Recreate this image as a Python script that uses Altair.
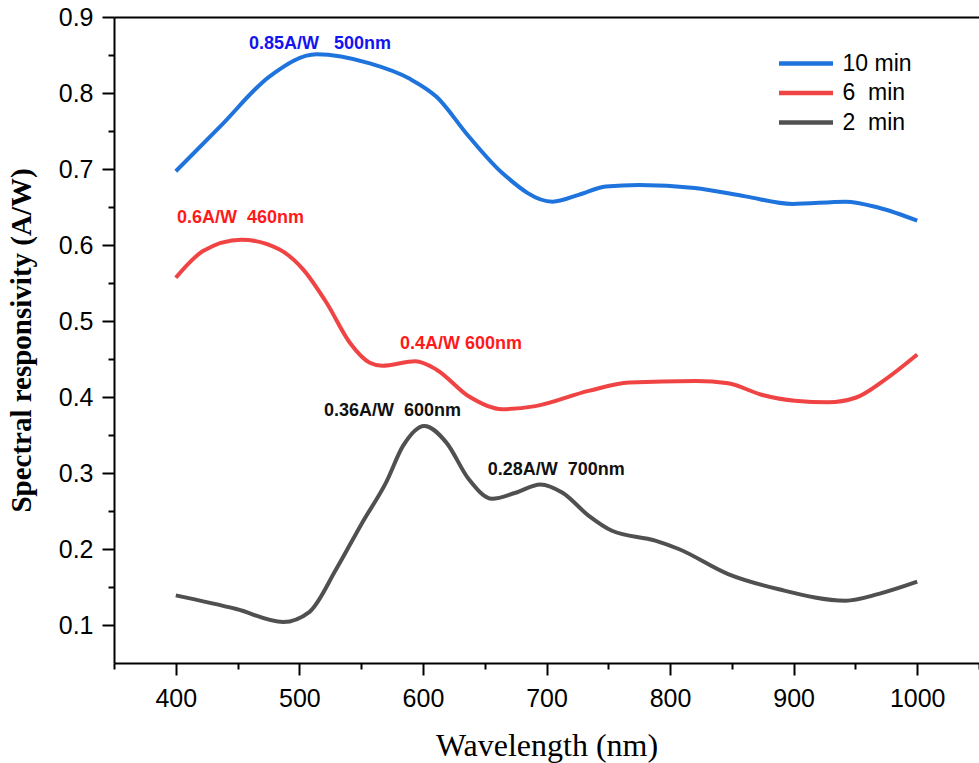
import altair as alt
import pandas as pd

# Spectral responsivity curves for three deposition times
wl_10 = [400, 436, 476, 514, 557, 589, 611, 637, 664, 705, 726, 748, 775, 820, 861, 899, 942, 969, 1000]
sr_10 = [0.697, 0.756, 0.822, 0.851, 0.839, 0.819, 0.795, 0.743, 0.695, 0.657, 0.666, 0.677, 0.679,
         0.675, 0.664, 0.654, 0.657, 0.649, 0.632]

wl_6 = [400, 422, 453, 484, 503, 522, 541, 557, 567, 594, 611, 637, 664, 691, 734, 767, 821, 847,
        874, 901, 928, 950, 974, 1000]
sr_6 = [0.557, 0.592, 0.607, 0.594, 0.568, 0.524, 0.471, 0.445, 0.441, 0.447, 0.436, 0.401, 0.384,
        0.388, 0.408, 0.419, 0.421, 0.418, 0.403, 0.395, 0.393, 0.399, 0.423, 0.456]

wl_2 = [400, 449, 487, 508, 530, 551, 570, 584, 601, 619, 637, 656, 675, 695, 713, 734, 753, 788,
        807, 847, 888, 942, 969, 1000]
sr_2 = [0.139, 0.121, 0.104, 0.117, 0.174, 0.235, 0.287, 0.336, 0.362, 0.340, 0.292, 0.266, 0.274,
        0.285, 0.274, 0.244, 0.224, 0.211, 0.200, 0.167, 0.147, 0.132, 0.141, 0.157]

series_names = ["10\u00a0min", "6\u00a0\u00a0min", "2\u00a0\u00a0min"]
line_colors = ["#1E73DC", "#F04444", "#505050"]

# Peak annotations
ann_text = ["0.85A/W\u00a0\u00a0\u00a0500nm", "0.6A/W\u00a0\u00a0460nm", "0.4A/W 600nm",
            "0.36A/W\u00a0\u00a0600nm", "0.28A/W\u00a0\u00a0700nm"]
ann_x = [459.2, 401.0, 581.4, 519.9, 652.4]
ann_y = [0.8645, 0.6355, 0.4697, 0.382, 0.304]
ann_color = ["#1414F0", "#FF1A1A", "#FF1A1A", "#111111", "#111111"]

x_major = [400, 500, 600, 700, 800, 900, 1000]
x_minor = [350, 450, 550, 650, 750, 850, 950, 1050]
y_major = [0.1, 0.2, 0.3, 0.4, 0.5, 0.6, 0.7, 0.8, 0.9]
y_minor = [0.15, 0.25, 0.35, 0.45, 0.55, 0.65, 0.75, 0.85]

rows = []
for name, wl, sr in zip(series_names, [wl_10, wl_6, wl_2], [sr_10, sr_6, sr_2]):
    rows += [{"series": name, "wavelength": w, "resp": r} for w, r in zip(wl, sr)]
df = pd.DataFrame(rows)

ann_df = pd.DataFrame({"label": ann_text, "x": ann_x, "y": ann_y, "c": ann_color})

x_scale = alt.Scale(domain=[350, 1050], nice=False, zero=False)
y_scale = alt.Scale(domain=[0.05, 0.9], nice=False, zero=False)

common = dict(grid=False, domainColor="black", domainWidth=2, tickColor="black", tickWidth=2)

x_axis = alt.Axis(
    orient="bottom", values=x_major, format="d", tickSize=12, labelFont="Liberation Sans",
    labelFontSize=25, labelColor="black", labelPadding=11, labelFlush=False, labelOverlap=False,
    title="Wavelength (nm)", titleFont="Liberation Serif", titleFontSize=32,
    titleFontWeight="normal", titleColor="black", titleBaseline="alphabetic", titleY=92, **common)
y_axis = alt.Axis(
    orient="left", values=y_major, format=".1f", tickSize=12, labelFont="Liberation Sans",
    labelFontSize=25, labelColor="black", labelPadding=9, labelFlush=False, labelOverlap=False,
    title="Spectral responsivity (A/W)", titleFont="Liberation Serif", titleFontSize=29,
    titleFontWeight="bold", titleColor="black", titleAngle=270, titleBaseline="alphabetic",
    titleAlign="center", titleX=-84, titleY=323, **common)

x_minor_axis = alt.Axis(orient="bottom", values=x_minor, tickSize=6, labels=False, domain=False,
                        title="", **common)
y_minor_axis = alt.Axis(orient="left", values=y_minor, tickSize=6, labels=False, domain=False,
                        title="", **common)
x_top_axis = alt.Axis(orient="top", ticks=False, labels=False, title="", **common)

lines = alt.Chart(df).mark_line(strokeWidth=4, interpolate="monotone").encode(
    x=alt.X("wavelength:Q", scale=x_scale, axis=x_axis),
    y=alt.Y("resp:Q", scale=y_scale, axis=y_axis),
    color=alt.Color(
        "series:N",
        scale=alt.Scale(domain=series_names, range=line_colors),
        legend=alt.Legend(
            title=None, orient="none", legendX=679.5, legendY=34, padding=0,
            symbolType="M-2.7,0H2.7", symbolSize=400, symbolStrokeWidth=4.5,
            labelFont="Liberation Sans", labelFontSize=23, labelColor="black",
            labelOffset=24, rowPadding=4.5,
        ),
    ),
)

minor = alt.Chart(df).mark_line(strokeOpacity=0).encode(
    x=alt.X("wavelength:Q", scale=x_scale, axis=x_minor_axis),
    y=alt.Y("resp:Q", scale=y_scale, axis=y_minor_axis),
    detail="series:N",
)

frame_top = alt.Chart(df).mark_line(strokeOpacity=0).encode(
    x=alt.X("wavelength:Q", scale=x_scale, axis=x_top_axis),
    y=alt.Y("resp:Q", scale=y_scale, axis=None),
    detail="series:N",
)

labels = alt.Chart(ann_df).mark_text(
    align="left", baseline="middle", font="Liberation Sans", fontWeight="bold", fontSize=18
).encode(
    x=alt.X("x:Q", scale=x_scale, axis=None),
    y=alt.Y("y:Q", scale=y_scale, axis=None),
    text="label:N",
    color=alt.Color("c:N", scale=None),
)

chart = (
    alt.layer(lines, minor, frame_top, labels)
    .resolve_axis(x="independent", y="independent")
    .properties(
        width=865, height=646,
        padding={"left": 114, "top": 17, "right": 0, "bottom": 100},
        autosize=alt.AutoSizeParams(type="none"),
        background="white",
    )
    .configure_view(strokeWidth=0)
    .configure(font="Liberation Sans")
)

chart.save("out.html", embed_options={"renderer": "svg", "actions": False})
